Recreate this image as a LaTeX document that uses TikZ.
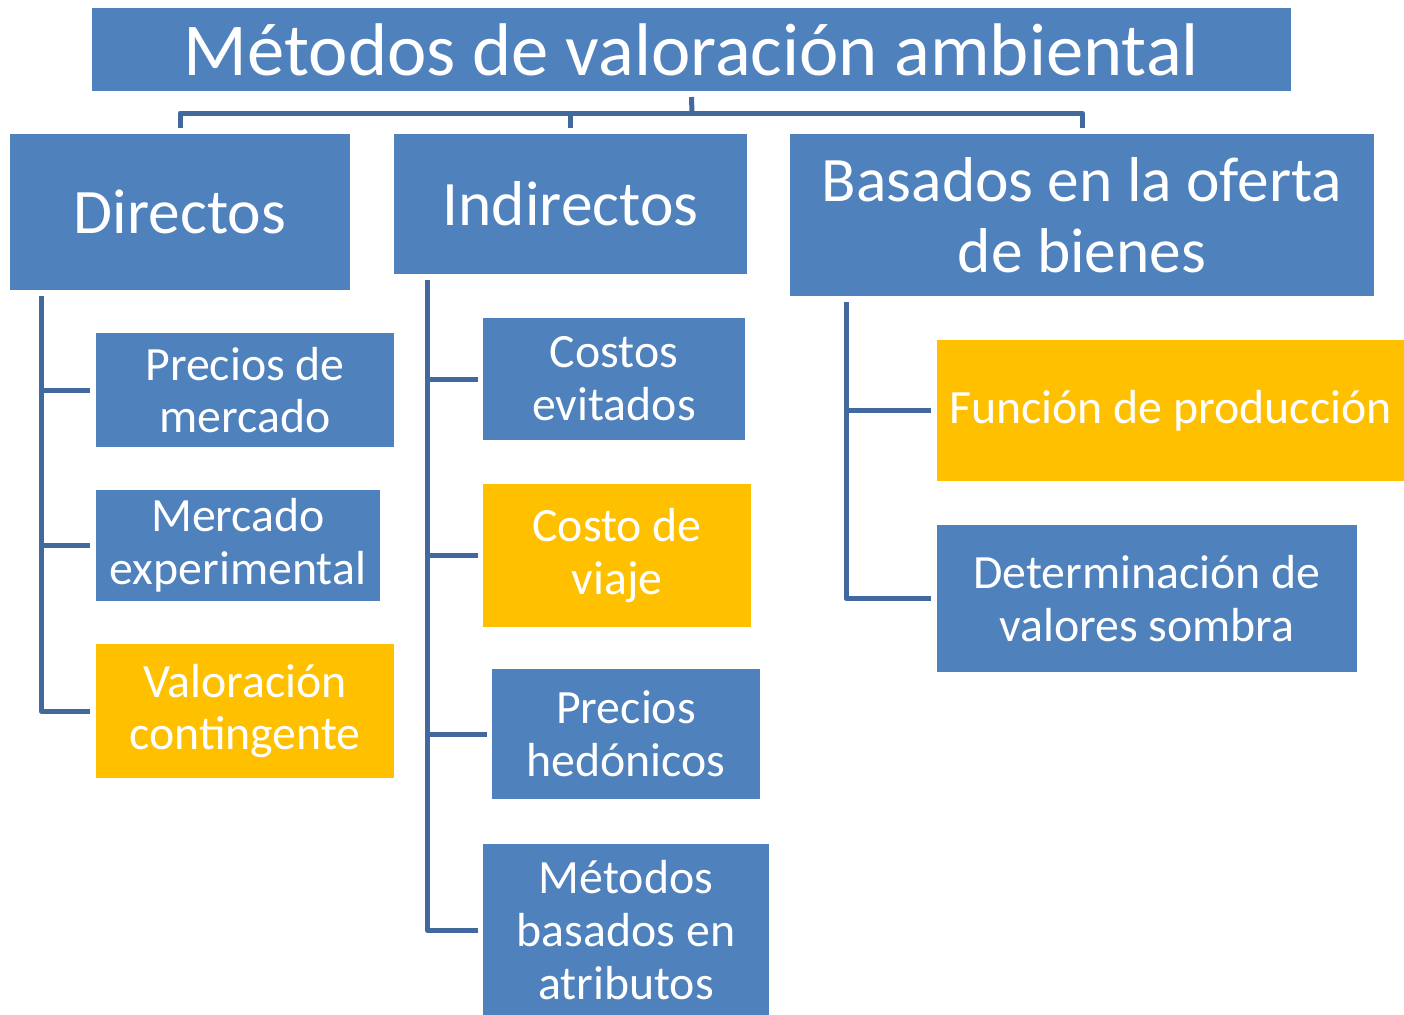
\documentclass[tikz,border=0pt]{standalone}
\usepackage{fontspec}
\setmainfont{Carlito}
\usetikzlibrary{calc}
\definecolor{boxblue}{HTML}{4F81BD}
\definecolor{boxorange}{HTML}{FFC000}
\definecolor{linecol}{HTML}{41699E}
\tikzset{
  base/.style={inner sep=0pt, outer sep=0pt, text=white, align=center},
  bluebox/.style={base, fill=boxblue},
  orangebox/.style={base, fill=boxorange},
  bigtxt/.style={font=\fontsize{37.3}{40}\selectfont},
  midtxt/.style={font=\fontsize{31.7}{35.5}\selectfont},
  smalltxt/.style={font=\fontsize{23.9}{26.4}\selectfont},
  conn/.style={draw=linecol, line width=2.5pt, line join=round}
}
\newcommand\bx[7]{\node[#6, minimum width={(#4-#2)*0.5pt}, minimum height={(#5-#3)*0.5pt}] (#1) at ({(#2+#4)/2},{(#3+#5)/2}) {#7};}
\begin{document}
\begin{tikzpicture}[x=0.5pt, y=-0.5pt]
\useasboundingbox (0,0) rectangle (1404,1014);
% boxes
\bx{title}{92}{8}{1291}{91}{bluebox,bigtxt}{Métodos de valoración ambiental}
\bx{dir}{10}{134}{350}{290}{bluebox,midtxt}{Directos}
\bx{ind}{394}{134}{747}{274}{bluebox,midtxt}{Indirectos}
\bx{bas}{790}{134}{1374}{296}{bluebox,midtxt}{Basados en la oferta\\de bienes}
\bx{pm}{96}{333}{394}{447}{bluebox,smalltxt}{Precios de\\mercado}
\bx{me}{96}{490}{380}{601}{bluebox,smalltxt}{Mercado\\experimental}
\bx{vc}{96}{644}{394}{778}{orangebox,smalltxt}{Valoración\\contingente}
\bx{ce}{483}{318}{745}{440}{bluebox,smalltxt}{Costos\\evitados}
\bx{cv}{483}{484}{751}{627}{orangebox,smalltxt}{Costo de\\viaje}
\bx{ph}{492}{669}{760}{799}{bluebox,smalltxt}{Precios\\hedónicos}
\bx{mb}{483}{844}{769}{1016}{bluebox,smalltxt}{Métodos\\basados en\\atributos}
\bx{fp}{937}{340}{1404}{481}{orangebox,smalltxt}{Función de producción}
\bx{dv}{937}{525}{1357}{672}{bluebox,smalltxt}{Determinación de\\valores sombra}
% top connectors
\coordinate (hub) at (692,113);
\draw[conn] ([yshift=-3pt]title.south) -- (hub);
\draw[conn] ([yshift=3pt]dir.north) |- (hub) -| ([yshift=3pt]bas.north);
\draw[conn] ([yshift=3pt]ind.north) -- (ind.north |- hub);
% Directos trunk
\coordinate (dtop) at ($(dir.south west)+(31,6)$);
\draw[conn] (dtop) |- ([xshift=-3pt]vc.west);
\draw[conn] (dtop |- pm.west) -- ([xshift=-3pt]pm.west);
\draw[conn] (dtop |- me.west) -- ([xshift=-3pt]me.west);
% Indirectos trunk
\coordinate (itop) at ($(ind.south west)+(33,6)$);
\draw[conn] (itop) |- ([xshift=-2.5pt]mb.west);
\draw[conn] (itop |- ce.west) -- ([xshift=-2.5pt]ce.west);
\draw[conn] (itop |- cv.west) -- ([xshift=-2.5pt]cv.west);
\draw[conn] (itop |- ph.west) -- ([xshift=-2.5pt]ph.west);
% Basados trunk
\coordinate (btop) at ($(bas.south west)+(56,6)$);
\draw[conn] (btop) |- ([xshift=-3pt]dv.west);
\draw[conn] (btop |- fp.west) -- ([xshift=-3pt]fp.west);
\end{tikzpicture}
\end{document}
